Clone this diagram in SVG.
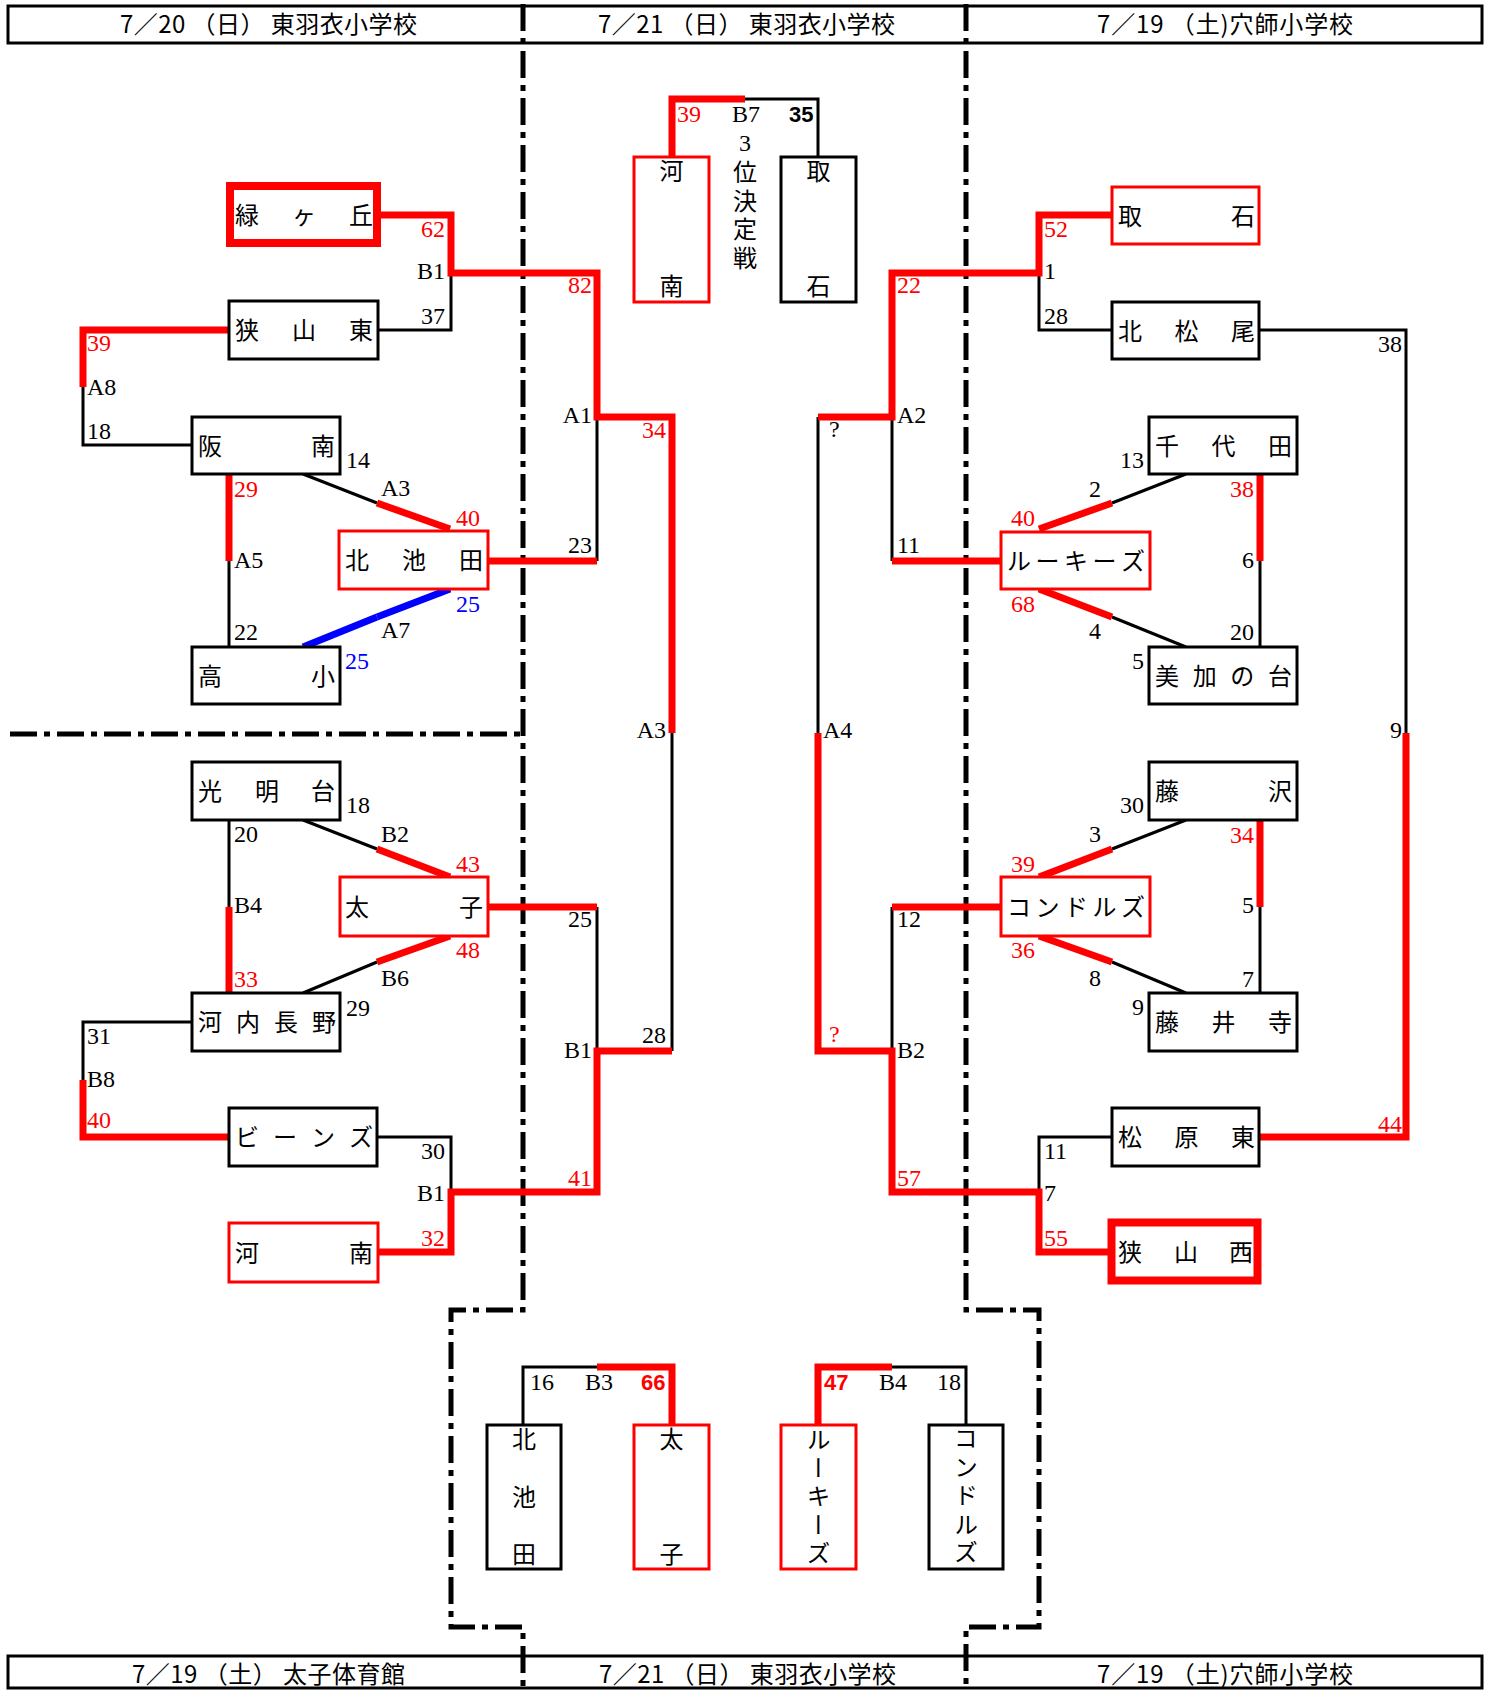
<svg xmlns="http://www.w3.org/2000/svg" width="1489" height="1690" viewBox="0 0 1489 1690">
<style>
.bg{fill:#fff}
.box{fill:#fff;stroke:#000;stroke-width:3}
.rbox{fill:#fff;stroke:#f00;stroke-width:3}
.tbox{fill:#fff;stroke:#f00;stroke-width:8}
.hd{fill:none;stroke:#000;stroke-width:3}
.n{font-family:"Noto Sans CJK JP","Noto Sans CJK SC",sans-serif;font-size:24px;fill:#000}
.v{font-family:"Noto Sans CJK JP","Noto Sans CJK SC",sans-serif;font-size:24px;fill:#000;writing-mode:vertical-rl;letter-spacing:4.5px}
.h{font-family:"Noto Sans CJK JP","Noto Sans CJK SC",sans-serif;font-size:24px;fill:#000}
.lb{font-family:"Liberation Serif",serif;font-size:24px;fill:#000}
.bd{font-family:"Liberation Sans",sans-serif;font-size:22px;font-weight:bold;fill:#000}
.r{fill:#f00}
.b{fill:#00f}
.k{fill:none;stroke:#000;stroke-width:3}
.rl{fill:none;stroke:#f00;stroke-width:7}
.bl{fill:none;stroke:#00f;stroke-width:7}
.dd{fill:none;stroke:#000;stroke-width:5;stroke-dasharray:27 7 6 7}
</style>
<rect class="bg" x="0" y="0" width="1489" height="1690"/>

<g id="frame">
<path class="dd" d="M523,4 V1310 H451 V1627 H523 V1690"/>
<path class="dd" d="M966,4 V1310 H1039 V1627 H966 V1690"/>
<path class="dd" d="M10,734 H521"/>
<rect class="hd" x="8" y="6" width="1474" height="37"/>
<rect class="hd" x="8" y="1656" width="1474" height="32"/>
<text class="h" x="120" y="33" textLength="297" lengthAdjust="spacing">7／20 （日） 東羽衣小学校</text>
<text class="h" x="598" y="33" textLength="297" lengthAdjust="spacing">7／21 （日） 東羽衣小学校</text>
<text class="h" x="1097" y="33" textLength="256" lengthAdjust="spacing">7／19 （土)穴師小学校</text>
<text class="h" x="132" y="1683" textLength="273" lengthAdjust="spacing">7／19 （土） 太子体育館</text>
<text class="h" x="599" y="1683" textLength="297" lengthAdjust="spacing">7／21 （日） 東羽衣小学校</text>
<text class="h" x="1097" y="1683" textLength="256" lengthAdjust="spacing">7／19 （土)穴師小学校</text>
</g>

<g id="connectors">
<g class="k">
<path d="M377,330 H451 V273"/>
<path d="M597,561 V417"/>
<path d="M672,733 V1051"/>
<path d="M83,387 V445 H192"/>
<path d="M229,561 V647"/>
<path d="M303,474 L377,503"/>
<path d="M229,820 V907"/>
<path d="M303,820 L377,849"/>
<path d="M377,962 L303,993"/>
<path d="M192,1022 H83 V1080"/>
<path d="M377,1137 H451 V1192"/>
<path d="M597,907 V1051"/>
<path d="M818,417 V733"/>
<path d="M1112,330 H1039 V273"/>
<path d="M1259,330 H1406 V733"/>
<path d="M892,561 V417"/>
<path d="M1186,474 L1112,503"/>
<path d="M1260,561 V647"/>
<path d="M1112,617 L1186,647"/>
<path d="M1186,820 L1112,849"/>
<path d="M1260,907 V993"/>
<path d="M1112,962 L1186,993"/>
<path d="M892,907 V1051"/>
<path d="M1112,1137 H1039 V1192"/>
<path d="M745,99 H818 V157"/>
<path d="M523,1425 V1367 H597"/>
<path d="M892,1367 H966 V1425"/>
</g>
<g class="rl">
<path d="M378,215 H451 V273 H597 V417 H672 V733"/>
<path d="M229,330 H83 V387"/>
<path d="M229,474 V561"/>
<path d="M377,503 L450,529"/>
<path d="M488,561 H597"/>
<path d="M229,907 V993"/>
<path d="M377,849 L450,877"/>
<path d="M450,936 L377,962"/>
<path d="M83,1080 V1137 H229"/>
<path d="M378,1252 H451 V1192 H597 V1051 H672"/>
<path d="M488,907 H597"/>
<path d="M1112,215 H1039 V273 H892 V417 H818"/>
<path d="M1002,561 H892"/>
<path d="M1112,503 L1039,529"/>
<path d="M1260,474 V561"/>
<path d="M1039,589 L1112,617"/>
<path d="M1112,849 L1039,877"/>
<path d="M1260,820 V907"/>
<path d="M1039,936 L1112,962"/>
<path d="M1002,907 H892"/>
<path d="M818,733 V1051 H892 V1192 H1039 V1252 H1111"/>
<path d="M1406,733 V1137 H1259"/>
<path d="M672,157 V99 H745"/>
<path d="M597,1367 H672 V1425"/>
<path d="M818,1425 V1367 H892"/>
</g>
<g class="bl">
<path d="M450,589 L377,617"/>
<path d="M377,617 L303,647"/>
</g>
</g>

<g id="labels">
<text class="lb r" x="445" y="237" text-anchor="end">62</text>
<text class="lb" x="445" y="279" text-anchor="end">B1</text>
<text class="lb" x="445" y="324" text-anchor="end">37</text>
<text class="lb r" x="87" y="351">39</text>
<text class="lb" x="87" y="395">A8</text>
<text class="lb" x="87" y="439">18</text>
<text class="lb" x="346" y="468">14</text>
<text class="lb" x="381" y="496">A3</text>
<text class="lb r" x="234" y="497">29</text>
<text class="lb r" x="456" y="526">40</text>
<text class="lb" x="234" y="568">A5</text>
<text class="lb b" x="456" y="612">25</text>
<text class="lb" x="381" y="638">A7</text>
<text class="lb" x="234" y="640">22</text>
<text class="lb b" x="345" y="669">25</text>
<text class="lb" x="346" y="813">18</text>
<text class="lb" x="234" y="842">20</text>
<text class="lb" x="381" y="842">B2</text>
<text class="lb r" x="456" y="872">43</text>
<text class="lb" x="234" y="913">B4</text>
<text class="lb r" x="456" y="958">48</text>
<text class="lb" x="381" y="986">B6</text>
<text class="lb r" x="234" y="987">33</text>
<text class="lb" x="346" y="1016">29</text>
<text class="lb" x="87" y="1044">31</text>
<text class="lb" x="87" y="1087">B8</text>
<text class="lb r" x="87" y="1128">40</text>
<text class="lb" x="445" y="1159" text-anchor="end">30</text>
<text class="lb" x="445" y="1201" text-anchor="end">B1</text>
<text class="lb r" x="445" y="1246" text-anchor="end">32</text>

<text class="lb r" x="592" y="293" text-anchor="end">82</text>
<text class="lb" x="592" y="423" text-anchor="end">A1</text>
<text class="lb r" x="666" y="438" text-anchor="end">34</text>
<text class="lb" x="592" y="553" text-anchor="end">23</text>
<text class="lb" x="666" y="738" text-anchor="end">A3</text>
<text class="lb" x="592" y="927" text-anchor="end">25</text>
<text class="lb" x="666" y="1043" text-anchor="end">28</text>
<text class="lb" x="592" y="1058" text-anchor="end">B1</text>
<text class="lb r" x="592" y="1186" text-anchor="end">41</text>

<text class="lb r" x="897" y="293">22</text>
<text class="lb" x="897" y="423">A2</text>
<text class="lb" x="829" y="437">?</text>
<text class="lb" x="897" y="553">11</text>
<text class="lb" x="823" y="738">A4</text>
<text class="lb" x="897" y="927">12</text>
<text class="lb r" x="829" y="1042">?</text>
<text class="lb" x="897" y="1058">B2</text>
<text class="lb r" x="897" y="1186">57</text>

<text class="lb r" x="1044" y="237">52</text>
<text class="lb" x="1044" y="279">1</text>
<text class="lb" x="1044" y="324">28</text>
<text class="lb" x="1402" y="352" text-anchor="end">38</text>
<text class="lb" x="1144" y="468" text-anchor="end">13</text>
<text class="lb" x="1095" y="497" text-anchor="middle">2</text>
<text class="lb r" x="1011" y="526">40</text>
<text class="lb r" x="1254" y="497" text-anchor="end">38</text>
<text class="lb" x="1254" y="568" text-anchor="end">6</text>
<text class="lb r" x="1011" y="612">68</text>
<text class="lb" x="1095" y="639" text-anchor="middle">4</text>
<text class="lb" x="1254" y="640" text-anchor="end">20</text>
<text class="lb" x="1144" y="669" text-anchor="end">5</text>
<text class="lb" x="1402" y="738" text-anchor="end">9</text>
<text class="lb" x="1144" y="813" text-anchor="end">30</text>
<text class="lb" x="1095" y="842" text-anchor="middle">3</text>
<text class="lb r" x="1254" y="843" text-anchor="end">34</text>
<text class="lb r" x="1011" y="872">39</text>
<text class="lb" x="1254" y="913" text-anchor="end">5</text>
<text class="lb r" x="1011" y="958">36</text>
<text class="lb" x="1095" y="986" text-anchor="middle">8</text>
<text class="lb" x="1254" y="987" text-anchor="end">7</text>
<text class="lb" x="1144" y="1015" text-anchor="end">9</text>
<text class="lb r" x="1402" y="1132" text-anchor="end">44</text>
<text class="lb" x="1044" y="1159">11</text>
<text class="lb" x="1044" y="1201">7</text>
<text class="lb r" x="1044" y="1246">55</text>

<text class="lb r" x="677" y="122">39</text>
<text class="lb" x="732" y="122">B7</text>
<text class="bd" x="789" y="122">35</text>
<text class="lb" x="745" y="151" text-anchor="middle">3</text>
<text class="v" x="745" y="160">位決定戦</text>

<text class="lb" x="530" y="1390">16</text>
<text class="lb" x="585" y="1390">B3</text>
<text class="bd r" x="641" y="1390">66</text>
<text class="bd r" x="824" y="1390">47</text>
<text class="lb" x="879" y="1390">B4</text>
<text class="lb" x="937" y="1390">18</text>
</g>

<g id="n-midorigaoka"><rect class="tbox" x="230" y="186" width="147" height="57"/><text class="n" x="235 292 349" y="223.5">緑ヶ丘</text></g>
<g id="n-sayamahigashi"><rect class="box" x="229" y="301" width="149" height="58"/><text class="n" x="235 292 349" y="339">狭山東</text></g>
<g id="n-hannan"><rect class="box" x="192" y="417" width="148" height="57"/><text class="n" x="198 311" y="454.5">阪南</text></g>
<g id="n-kitaikeda"><rect class="rbox" x="339" y="531" width="149" height="58"/><text class="n" x="345 402 459" y="569">北池田</text></g>
<g id="n-takasho"><rect class="box" x="192" y="647" width="148" height="57"/><text class="n" x="198 311" y="684.5">高小</text></g>
<g id="n-komyodai"><rect class="box" x="192" y="762" width="148" height="58"/><text class="n" x="198 255 311" y="800">光明台</text></g>
<g id="n-taishi"><rect class="rbox" x="340" y="877" width="148" height="59"/><text class="n" x="345 459" y="915.5">太子</text></g>
<g id="n-kawachinagano"><rect class="box" x="192" y="993" width="148" height="58"/><text class="n" x="198 236 274 312" y="1031">河内長野</text></g>
<g id="n-beans"><rect class="box" x="229" y="1108" width="148" height="58"/><text class="n" x="235 273 311 349" y="1146">ビーンズ</text></g>
<g id="n-kanan"><rect class="rbox" x="229" y="1223" width="149" height="59"/><text class="n" x="235 349" y="1261.5">河南</text></g>

<g id="n-toriishi"><rect class="rbox" x="1112" y="187" width="147" height="57"/><text class="n" x="1118 1231" y="224.5">取石</text></g>
<g id="n-kitamatsuo"><rect class="box" x="1112" y="302" width="147" height="57"/><text class="n" x="1118 1174.5 1231" y="339.5">北松尾</text></g>
<g id="n-chiyoda"><rect class="box" x="1149" y="417" width="148" height="57"/><text class="n" x="1155 1211.5 1268" y="454.5">千代田</text></g>
<g id="n-rookies"><rect class="rbox" x="1001" y="532" width="149" height="57"/><text class="n" x="1007 1035.5 1064 1092.5 1121" y="569.5">ルーキーズ</text></g>
<g id="n-mikanodai"><rect class="box" x="1149" y="647" width="148" height="57"/><text class="n" x="1155 1192.7 1230.3 1268" y="684.5">美加の台</text></g>
<g id="n-fujisawa"><rect class="box" x="1149" y="762" width="148" height="58"/><text class="n" x="1155 1268" y="800">藤沢</text></g>
<g id="n-condors"><rect class="rbox" x="1001" y="877" width="149" height="59"/><text class="n" x="1007 1035.5 1064 1092.5 1121" y="915.5">コンドルズ</text></g>
<g id="n-fujiidera"><rect class="box" x="1149" y="993" width="148" height="58"/><text class="n" x="1155 1211.5 1268" y="1031">藤井寺</text></g>
<g id="n-matsubarahigashi"><rect class="box" x="1112" y="1108" width="147" height="58"/><text class="n" x="1118 1174.5 1231" y="1146">松原東</text></g>
<g id="n-sayamanishi"><rect class="tbox" x="1111.5" y="1222.5" width="146" height="58"/><text class="n" x="1118 1174 1229" y="1260.5">狭山西</text></g>

<g id="n-3rd-kanan"><rect class="rbox" x="634" y="157" width="75" height="145"/><text class="n" x="671.5" y="180" text-anchor="middle">河</text><text class="n" x="671.5" y="295" text-anchor="middle">南</text></g>
<g id="n-3rd-toriishi"><rect class="box" x="781" y="157" width="75" height="145"/><text class="n" x="818.5" y="180" text-anchor="middle">取</text><text class="n" x="818.5" y="295" text-anchor="middle">石</text></g>

<g id="n-f-kitaikeda"><rect class="box" x="487" y="1425" width="74" height="144"/><text class="n" x="524" y="1448" text-anchor="middle">北</text><text class="n" x="524" y="1506" text-anchor="middle">池</text><text class="n" x="524" y="1563" text-anchor="middle">田</text></g>
<g id="n-f-taishi"><rect class="rbox" x="634" y="1425" width="75" height="144"/><text class="n" x="671.5" y="1448" text-anchor="middle">太</text><text class="n" x="671.5" y="1563" text-anchor="middle">子</text></g>
<g id="n-f-rookies"><rect class="rbox" x="781" y="1425" width="75" height="144"/><text class="v" x="818.5" y="1427">ルーキーズ</text></g>
<g id="n-f-condors"><rect class="box" x="929" y="1425" width="74" height="144"/><text class="v" x="966" y="1426">コンドルズ</text></g>
</svg>
